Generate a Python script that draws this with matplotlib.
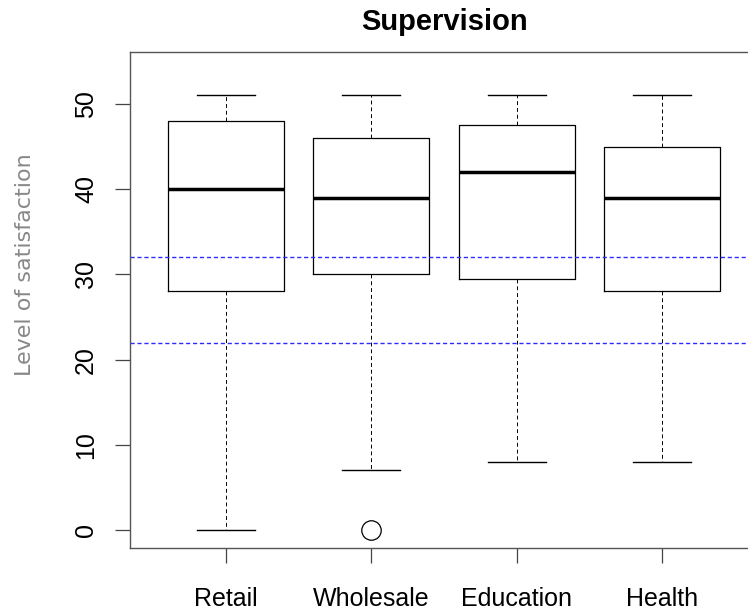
import matplotlib
matplotlib.use("Agg")
import matplotlib.pyplot as plt

# values
sectors = ["Retail", "Wholesale", "Education", "Health"]
whisker_low = [0, 7, 8, 8]
q1 = [28, 30, 29.5, 28]
medians = [40, 39, 42, 39]
q3 = [48, 46, 47.5, 45]
whisker_high = [51, 51, 51, 51]
outliers = [[], [0], [], []]
ref_lines = [22, 32]

plt.rcParams['font.family'] = ['Liberation Sans', 'DejaVu Sans']

fig = plt.figure(figsize=(7.48, 6.14), dpi=100)
ax = fig.add_axes([130 / 748, 1 - 548 / 614, (758 - 130) / 748, (548 - 52) / 614])

stats = []
for i, name in enumerate(sectors):
    stats.append(dict(label=name, whislo=whisker_low[i], q1=q1[i], med=medians[i],
                      q3=q3[i], whishi=whisker_high[i], fliers=outliers[i]))

# caps half as wide as the boxes, like R's boxplot
ax.bxp(stats, positions=range(1, len(sectors) + 1), widths=0.8, capwidths=0.4,
       boxprops=dict(color='black', linewidth=0.9),
       whiskerprops=dict(color='black', linestyle=(0, (4, 3)), linewidth=0.7),
       capprops=dict(color='black', linewidth=1.0),
       medianprops=dict(color='black', linewidth=2.5),
       flierprops=dict(marker='o', markersize=14, markerfacecolor='none',
                       markeredgecolor='black', markeredgewidth=0.9))

for y in ref_lines:
    ax.axhline(y, color='#2b2bff', linestyle=(0, (3, 2)), linewidth=1.0)

ax.set_xlim(0.34, 4.66)
ax.set_ylim(-2.1, 56.1)
ax.set_yticks([0, 10, 20, 30, 40, 50])
ax.set_yticklabels(['0', '10', '20', '30', '40', '50'], rotation=90, va='center', fontsize=18)
ax.set_xticks(range(1, len(sectors) + 1))
ax.set_xticklabels(sectors, fontsize=18)
ax.tick_params(axis='y', length=11, width=0.9, pad=12, colors='#444444', labelcolor='black')
ax.tick_params(axis='x', length=11, width=0.9, pad=17, colors='#444444', labelcolor='black')
for s in ax.spines.values():
    s.set_color('#555555')
    s.set_linewidth(1.0)

fig.text(444 / 748, 1 - 22 / 614, "Supervision", ha='center', va='center',
         fontsize=21, fontweight='bold')
fig.text(25 / 748, 1 - 265 / 614, "Level of satisfaction", rotation=90,
         ha='center', va='center', fontsize=16, color='#888888',
         family='DejaVu Sans')

fig.savefig("out.png", dpi=100)
